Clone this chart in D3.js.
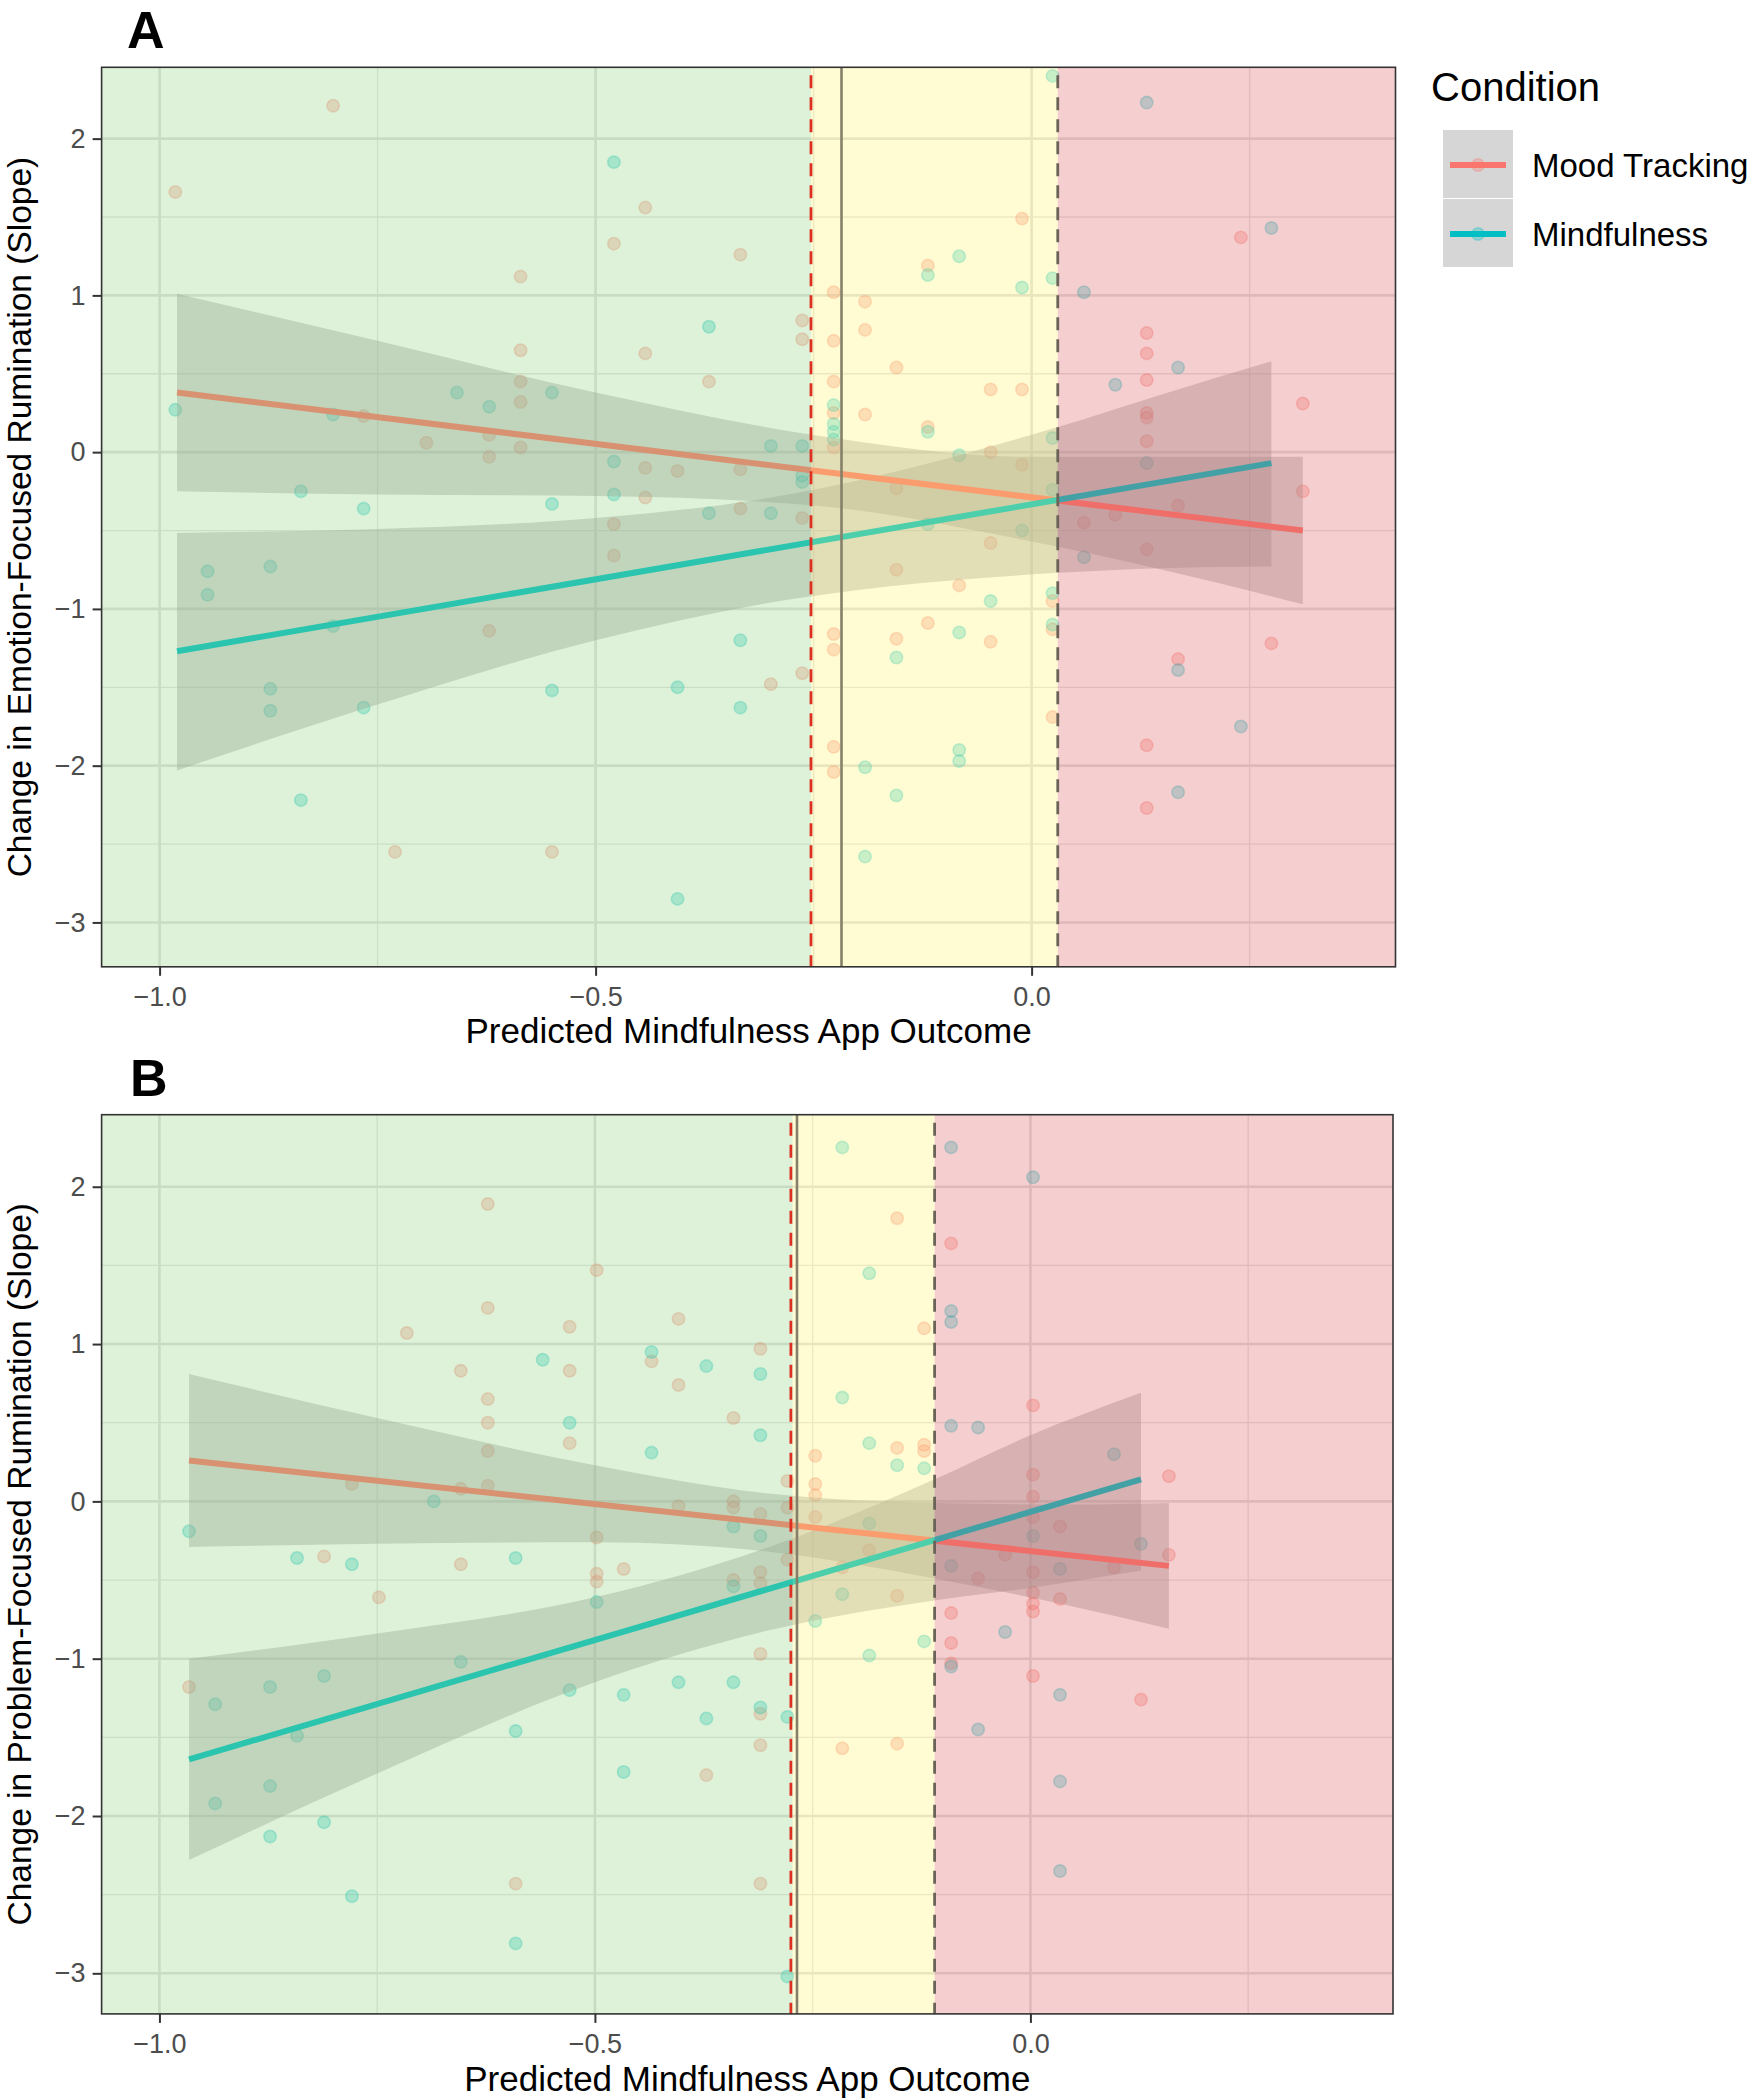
<!DOCTYPE html>
<html><head><meta charset="utf-8">
<script src="https://cdn.jsdelivr.net/npm/d3@7"></script>
<style>
body{margin:0;background:#fff;}
svg{display:block;font-family:"Liberation Sans",Arial,Helvetica,sans-serif;}
</style>
</head><body>
<svg id="c" width="1747" height="2100"></svg>
<script>
// ---------------- DATA ----------------
const conditions = ["Mood Tracking", "Mindfulness"];
const conditionColors = ["#F8766D", "#00BFC4"];
const xTicks = [-1.0, -0.5, 0.0];
const xMinor = [-0.75, -0.25, 0.25];
const yTicks = [-3, -2, -1, 0, 1, 2];
const yMinor = [-2.5, -1.5, -0.5, 0.5, 1.5];
const xTitle = "Predicted Mindfulness App Outcome";
const yTitleA = "Change in Emotion-Focused Rumination (Slope)";
const yTitleB = "Change in Problem-Focused Rumination (Slope)";
const legendTitle = "Condition";

// Panel A points [x, y]
const moodA = [[-0.982,1.66],[-0.801,2.21],[-0.766,0.23],[-0.730,-2.55],[-0.694,0.06],[-0.622,0.11],[-0.622,-0.03],[-0.622,-1.14],
[-0.586,0.65],[-0.586,1.12],[-0.586,0.45],[-0.586,0.32],[-0.586,0.03],[-0.550,-2.55],[-0.479,1.33],[-0.443,1.56],[-0.443,0.63],
[-0.443,-0.10],[-0.406,-0.12],[-0.443,-0.29],[-0.479,-0.46],[-0.479,-0.66],[-0.370,0.45],[-0.334,1.26],[-0.334,-0.11],[-0.334,-0.36],
[-0.263,0.84],[-0.263,0.72],[-0.263,-0.42],[-0.263,-1.41],[-0.299,-1.48],
[-0.227,1.02],[-0.227,0.71],[-0.227,0.45],[-0.227,0.25],[-0.227,0.03],[-0.227,-1.16],[-0.227,-1.26],[-0.227,-1.88],[-0.227,-2.04],
[-0.191,0.96],[-0.191,0.78],[-0.191,0.24],[-0.155,0.54],[-0.155,-0.23],[-0.155,-0.75],[-0.155,-1.19],[-0.119,1.19],[-0.119,0.16],
[-0.119,-1.09],[-0.083,-0.85],[-0.047,0.40],[-0.047,0.00],[-0.047,-0.58],[-0.047,-1.21],[-0.011,1.49],[-0.011,0.40],[-0.011,-0.08],
[0.024,-0.95],[0.024,-1.13],[0.024,-1.69],
[0.240,1.37],[0.132,0.76],[0.132,0.63],[0.132,0.46],[0.311,0.31],[0.132,0.25],[0.132,0.22],[0.132,0.07],[0.311,-0.25],[0.168,-0.34],
[0.096,-0.40],[0.060,-0.45],[0.132,-0.62],[0.275,-1.22],[0.168,-1.32],[0.132,-1.87],[0.132,-2.27]];
const mindA = [[-0.982,0.27],[-0.945,-0.76],[-0.945,-0.91],[-0.873,-0.73],[-0.873,-1.51],[-0.873,-1.65],[-0.838,-0.25],[-0.838,-2.22],
[-0.801,0.24],[-0.801,-1.11],[-0.766,-0.36],[-0.766,-1.63],[-0.659,0.38],[-0.622,0.29],[-0.550,0.38],[-0.550,-0.33],[-0.550,-1.52],
[-0.479,1.85],[-0.479,-0.06],[-0.479,-0.27],[-0.406,-1.50],[-0.406,-2.85],[-0.370,0.80],[-0.370,-0.39],[-0.334,-1.20],[-0.334,-1.63],
[-0.299,0.04],[-0.299,-0.39],[-0.263,0.04],[-0.263,-0.15],[-0.263,-0.19],
[-0.227,0.30],[-0.227,0.18],[-0.227,0.13],[-0.227,0.08],[-0.191,-2.01],[-0.191,-2.58],[-0.155,-1.31],[-0.155,-2.19],[-0.119,1.13],
[-0.119,0.13],[-0.119,-0.46],[-0.083,1.25],[-0.083,-0.02],[-0.083,-1.15],[-0.083,-1.90],[-0.083,-1.97],[-0.047,-0.95],[-0.011,1.05],
[-0.011,-0.50],[0.024,2.40],[0.024,1.11],[0.024,0.09],[0.024,-0.24],[0.024,-0.90],[0.024,-1.10],
[0.132,2.23],[0.060,1.02],[0.275,1.43],[0.168,0.54],[0.096,0.43],[0.132,-0.07],[0.060,-0.67],[0.168,-1.39],[0.240,-1.75],[0.168,-2.17]];

// Panel B points [x, y]
const moodB = [[-0.623,1.89],[-0.498,1.47],[-0.623,1.23],[-0.716,1.07],[-0.529,1.11],[-0.404,1.16],[-0.435,0.89],[-0.310,0.97],
[-0.654,0.83],[-0.529,0.83],[-0.404,0.74],[-0.623,0.65],[-0.623,0.50],[-0.529,0.37],[-0.341,0.53],[-0.623,0.32],[-0.623,0.10],
[-0.779,0.11],[-0.654,0.08],[-0.498,-0.23],[-0.404,-0.03],[-0.341,0.00],[-0.341,-0.04],[-0.310,-0.08],[-0.279,0.13],[-0.279,-0.04],
[-0.811,-0.35],[-0.654,-0.40],[-0.498,-0.46],[-0.498,-0.51],[-0.467,-0.43],[-0.341,-0.50],[-0.310,-0.45],[-0.310,-0.52],[-0.748,-0.61],
[-0.310,-0.97],[-0.966,-1.18],[-0.310,-1.35],[-0.310,-1.55],[-0.372,-1.74],[-0.591,-2.43],[-0.310,-2.43],[-0.279,-0.37],
[-0.153,1.80],[-0.247,0.29],[-0.247,0.11],[-0.247,0.04],[-0.247,-0.10],[-0.153,0.34],[-0.122,1.10],[-0.122,0.36],[-0.122,0.32],
[-0.216,-0.42],[-0.185,-0.31],[-0.216,-1.57],[-0.153,-1.54],[-0.153,-0.60],
[-0.091,1.64],[0.003,0.61],[0.003,0.17],[0.003,0.03],[0.003,-0.10],[0.034,-0.16],[0.159,0.16],[-0.029,-0.34],[0.003,-0.45],
[-0.060,-0.49],[0.096,-0.42],[0.159,-0.34],[0.003,-0.58],[0.003,-0.65],[0.003,-0.70],[0.034,-0.62],[-0.091,-0.71],[-0.091,-0.90],
[-0.091,-1.03],[0.003,-1.11],[0.127,-1.26]];
const mindB = [[-0.966,-0.19],[-0.842,-0.36],[-0.779,-0.40],[-0.685,0.00],[-0.591,-0.36],[-0.560,0.90],[-0.435,0.95],[-0.372,0.86],
[-0.310,0.81],[-0.529,0.50],[-0.310,0.42],[-0.435,0.31],[-0.341,-0.16],[-0.310,-0.22],[-0.341,-0.54],[-0.498,-0.64],[-0.654,-1.02],
[-0.811,-1.11],[-0.873,-1.18],[-0.529,-1.20],[-0.404,-1.15],[-0.341,-1.15],[-0.467,-1.23],[-0.936,-1.29],[-0.372,-1.38],[-0.310,-1.31],
[-0.279,-1.37],[-0.591,-1.46],[-0.842,-1.49],[-0.467,-1.72],[-0.873,-1.81],[-0.936,-1.92],[-0.811,-2.04],[-0.873,-2.13],[-0.779,-2.51],
[-0.591,-2.81],[-0.279,-3.02],
[-0.216,2.25],[-0.185,1.45],[-0.216,0.66],[-0.185,0.37],[-0.153,0.23],[-0.122,0.21],[-0.185,-0.14],[-0.216,-0.59],[-0.247,-0.76],
[-0.122,-0.89],[-0.185,-0.98],
[-0.091,2.25],[0.003,2.06],[-0.091,1.21],[-0.091,1.14],[-0.091,0.48],[-0.060,0.47],[0.096,0.30],[0.003,-0.22],[-0.091,-0.41],
[0.034,-0.43],[-0.029,-0.83],[-0.091,-1.05],[0.034,-1.23],[-0.060,-1.45],[0.034,-1.78],[0.034,-2.35],[0.127,-0.27]];

// Fitted lines [x, y] (start, end)
const fitMoodA = [[-0.98, 0.38], [0.311, -0.50]];
const fitMindA = [[-0.98, -1.27], [0.275, -0.07]];
const fitMoodB = [[-0.966, 0.26], [0.159, -0.41]];
const fitMindB = [[-0.966, -1.64], [0.127, 0.14]];

// Confidence bands [x, lower, upper]
const bandMoodA = [[-0.98,-0.25,1.01],[-0.75,-0.27,0.71],[-0.5,-0.28,0.38],[-0.25,-0.34,0.11],[0.0,-0.57,-0.03],[0.15,-0.75,-0.03],[0.311,-0.97,-0.03]];
const bandMindA = [[-0.98,-2.03,-0.515],[-0.75,-1.61,-0.49],[-0.5,-1.20,-0.42],[-0.31,-0.97,-0.30],[0.03,-0.77,0.16],[0.15,-0.74,0.37],[0.275,-0.73,0.58]];
const bandMoodB = [[-0.966,-0.29,0.81],[-0.75,-0.27,0.53],[-0.5,-0.26,0.23],[-0.3,-0.32,0.05],[-0.11,-0.49,-0.01],[0.05,-0.67,-0.02],[0.159,-0.81,-0.01]];
const bandMindB = [[-0.966,-2.28,-1.00],[-0.75,-1.73,-0.84],[-0.5,-1.15,-0.61],[-0.3,-0.82,-0.29],[-0.11,-0.63,0.14],[0.0,-0.55,0.42],[0.127,-0.44,0.69]];

// Region boundaries and reference lines (x values)
const zonesA = [-0.253, 0.030];
const zonesB = [-0.273, -0.110];
const refLinesA = {lowDash: -0.253, solid: -0.218, highDash: 0.030};
const refLinesB = {lowDash: -0.275, solid: -0.268, highDash: -0.110};

// ---------------- STYLE ----------------
const zoneColors = ["rgb(142,212,125)", "rgb(255,245,112)", "rgb(222,92,95)"];
const zoneAlpha = 0.3;

const svg = d3.select("#c");
svg.append("rect").attr("width", 1747).attr("height", 2100).attr("fill", "#fff");

function fmtX(d) { return d3.format(".1f")(d).replace("-", "\u2212"); }
function fmtY(d) { return String(d).replace("-", "\u2212"); }

function drawPanel(cfg) {
  const W = cfg.width, H = cfg.height;
  const g = svg.append("g").attr("transform", `translate(${cfg.left},${cfg.top})`);
  const x = d3.scaleLinear().domain(cfg.xDomain).range([0, W]);
  const y = d3.scaleLinear().domain(cfg.yDomain).range([H, 0]);
  const clipId = "clip" + cfg.id;
  g.append("clipPath").attr("id", clipId).append("rect").attr("width", W).attr("height", H);
  const plot = g.append("g").attr("clip-path", `url(#${clipId})`);
  plot.append("rect").attr("width", W).attr("height", H).attr("fill", "#fff");

  // grid
  plot.selectAll(".gxm").data(xMinor).join("line")
    .attr("x1", d => x(d)).attr("x2", d => x(d)).attr("y1", 0).attr("y2", H)
    .attr("stroke", "#E4E4E4").attr("stroke-width", 1.3);
  plot.selectAll(".gym").data(yMinor).join("line")
    .attr("y1", d => y(d)).attr("y2", d => y(d)).attr("x1", 0).attr("x2", W)
    .attr("stroke", "#E4E4E4").attr("stroke-width", 1.3);
  plot.selectAll(".gx").data(xTicks).join("line")
    .attr("x1", d => x(d)).attr("x2", d => x(d)).attr("y1", 0).attr("y2", H)
    .attr("stroke", "#E0E0E0").attr("stroke-width", 2.6);
  plot.selectAll(".gy").data(yTicks).join("line")
    .attr("y1", d => y(d)).attr("y2", d => y(d)).attr("x1", 0).attr("x2", W)
    .attr("stroke", "#E0E0E0").attr("stroke-width", 2.6);

  // points
  cfg.series.forEach((s, i) => {
    plot.append("g").selectAll("circle").data(s.points).join("circle")
      .attr("cx", d => x(d[0])).attr("cy", d => y(d[1])).attr("r", 6.2)
      .attr("fill", conditionColors[i]).attr("fill-opacity", 0.3)
      .attr("stroke", conditionColors[i]).attr("stroke-opacity", 0.3).attr("stroke-width", 1.6);
  });

  // ribbons
  const area = d3.area().x(d => x(d[0])).y0(d => y(d[1])).y1(d => y(d[2])).curve(d3.curveMonotoneX);
  cfg.series.forEach(s => {
    plot.append("path").datum(s.band).attr("d", area).attr("fill", "#999999").attr("fill-opacity", 0.4);
  });

  // fitted lines
  const line = d3.line().x(d => x(d[0])).y(d => y(d[1]));
  cfg.series.forEach((s, i) => {
    plot.append("path").datum(s.fit).attr("d", line).attr("fill", "none")
      .attr("stroke", conditionColors[i]).attr("stroke-width", 6);
  });

  // shaded regions
  const edges = [cfg.xDomain[0], cfg.zones[0], cfg.zones[1], cfg.xDomain[1]];
  zoneColors.forEach((c, i) => {
    plot.append("rect").attr("x", x(edges[i])).attr("y", 0)
      .attr("width", x(edges[i + 1]) - x(edges[i])).attr("height", H)
      .attr("fill", c).attr("fill-opacity", zoneAlpha);
  });

  // reference lines
  const r = cfg.ref;
  plot.append("line").attr("x1", x(r.solid)).attr("x2", x(r.solid)).attr("y1", 0).attr("y2", H)
    .attr("stroke", "#85806A").attr("stroke-width", 2.6);
  plot.append("line").attr("x1", x(r.lowDash)).attr("x2", x(r.lowDash)).attr("y1", 8).attr("y2", H)
    .attr("stroke", "#DD3020").attr("stroke-width", 2.8).attr("stroke-dasharray", "13,9");
  plot.append("line").attr("x1", x(r.highDash)).attr("x2", x(r.highDash)).attr("y1", 8).attr("y2", H)
    .attr("stroke", "#6B6358").attr("stroke-width", 2.8).attr("stroke-dasharray", "13,9");

  // border
  g.append("rect").attr("width", W).attr("height", H).attr("fill", "none")
    .attr("stroke", "#333333").attr("stroke-width", 1.6);

  // axes
  const ax = g.append("g").attr("transform", `translate(0,${H})`)
    .call(d3.axisBottom(x).tickValues(xTicks).tickSize(9).tickPadding(11).tickFormat(fmtX));
  const ay = g.append("g")
    .call(d3.axisLeft(y).tickValues(yTicks).tickSize(9).tickPadding(7).tickFormat(fmtY));
  [ax, ay].forEach(a => {
    a.select(".domain").remove();
    a.selectAll(".tick line").attr("stroke", "#333333").attr("stroke-width", 2);
    a.selectAll(".tick text").attr("fill", "#4D4D4D").style("font-size", "27px")
      .style("font-family", '"Liberation Sans", Arial, sans-serif');
  });

  // titles
  g.append("text").attr("x", W / 2).attr("y", cfg.xTitleY).attr("text-anchor", "middle")
    .style("font-size", "35px").attr("fill", "#000").text(xTitle);
  g.append("text").attr("transform", `translate(${cfg.yTitleX},${H / 2}) rotate(-90)`)
    .attr("text-anchor", "middle").style("font-size", "33.5px").attr("fill", "#000").text(cfg.yTitle);

  // panel letter
  svg.append("text").attr("x", cfg.letterX).attr("y", cfg.letterY)
    .style("font-size", "52px").style("font-weight", "bold").attr("fill", "#000").text(cfg.letter);
}

drawPanel({
  id: "A", left: 101.6, top: 67.3, width: 1293.9, height: 899.5,
  xDomain: [-1.0665, 0.4173], yDomain: [-3.283, 2.455],
  series: [{points: moodA, fit: fitMoodA, band: bandMoodA}, {points: mindA, fit: fitMindA, band: bandMindA}],
  zones: zonesA, ref: refLinesA,
  xTitleY: 976, yTitleX: -70.5, yTitle: yTitleA,
  letter: "A", letterX: 127, letterY: 48
});
drawPanel({
  id: "B", left: 101.6, top: 1114.7, width: 1291.4, height: 899.2,
  xDomain: [-1.0664, 0.4163], yDomain: [-3.258, 2.458],
  series: [{points: moodB, fit: fitMoodB, band: bandMoodB}, {points: mindB, fit: fitMindB, band: bandMindB}],
  zones: zonesB, ref: refLinesB,
  xTitleY: 976, yTitleX: -70.5, yTitle: yTitleB,
  letter: "B", letterX: 130, letterY: 1096
});

// legend
const leg = svg.append("g");
leg.append("text").attr("x", 1431).attr("y", 101).style("font-size", "40px").attr("fill", "#000").text(legendTitle);
conditions.forEach((c, i) => {
  const ky = 130 + i * 69;
  leg.append("rect").attr("x", 1443).attr("y", ky).attr("width", 70).attr("height", 68).attr("fill", "#D6D6D6");
  const cy = ky + 35;
  leg.append("circle").attr("cx", 1478).attr("cy", cy).attr("r", 6.2)
    .attr("fill", conditionColors[i]).attr("fill-opacity", 0.3)
    .attr("stroke", conditionColors[i]).attr("stroke-opacity", 0.3).attr("stroke-width", 1.6);
  leg.append("line").attr("x1", 1450).attr("x2", 1506).attr("y1", cy).attr("y2", cy)
    .attr("stroke", conditionColors[i]).attr("stroke-width", 6);
  leg.append("text").attr("x", 1532).attr("y", cy + 12).style("font-size", "33px").attr("fill", "#000").text(c);
});
</script>
</body></html>
